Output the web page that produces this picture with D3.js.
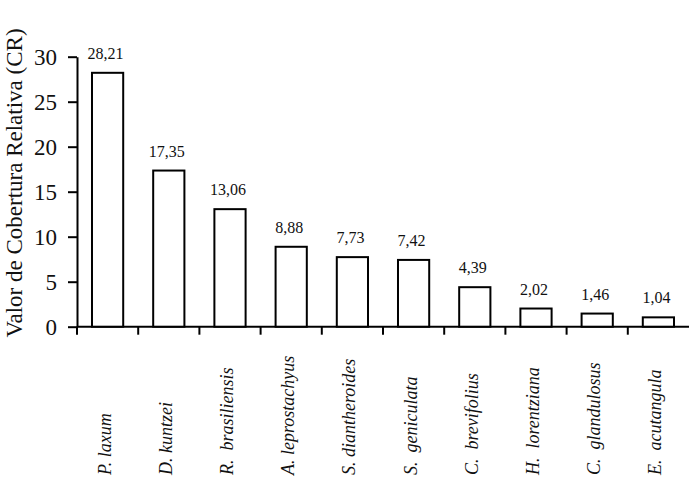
<!DOCTYPE html>
<html><head><meta charset="utf-8">
<script src="https://cdn.jsdelivr.net/npm/d3@7"></script>
<style>body{margin:0;background:#fff}svg{display:block}text{font-family:"Liberation Serif","Times New Roman",serif}</style>
</head><body>
<svg id="c" width="696" height="480"></svg>
<script>
const categories = ["P. laxum","D. kuntzei","R.  brasiliensis","A. leprostachyus","S. diantheroides","S.  geniculata","C.  brevifolius","H.  lorentziana","C.  glandulosus","E.  acutangula"];
const values = [28.21,17.35,13.06,8.88,7.73,7.42,4.39,2.02,1.46,1.04];
const valueLabels = ["28,21","17,35","13,06","8,88","7,73","7,42","4,39","2,02","1,46","1,04"];
const yTicks = [0,5,10,15,20,25,30];
const yTitle = "Valor de Cobertura Relativa (CR)";

const svg = d3.select("#c");
const serif = '"Liberation Serif","Times New Roman",serif';
const y = d3.scaleLinear().domain([0,30]).range([326.7,56.7]);
const x = d3.scaleBand().domain(categories).range([77,689]).paddingInner(0.49).paddingOuter(0.245);
const step = x.step(), bw = x.bandwidth();

// y axis
const ya = svg.append("g").attr("transform","translate(77,0)")
  .call(d3.axisLeft(y).tickValues(yTicks).tickSize(9).tickSizeOuter(0).tickPadding(11).tickFormat(d3.format("d")));
ya.attr("font-family",null).style("font-family",serif);
ya.select(".domain").attr("stroke","#000").attr("stroke-width",2);
ya.selectAll(".tick line").attr("stroke","#000").attr("stroke-width",2);
ya.selectAll(".tick text").style("font-family",serif).attr("font-size",23).attr("fill","#111");

// x axis line + boundary ticks
svg.append("line").attr("x1",x.range()[0]).attr("x2",x.range()[1]).attr("y1",y(0)).attr("y2",y(0))
  .attr("stroke","#000").attr("stroke-width",2);
svg.selectAll("line.xt").data(categories).enter().append("line").attr("class","xt")
  .attr("x1",d=>x(d)-(step-bw)/2).attr("x2",d=>x(d)-(step-bw)/2)
  .attr("y1",y(0)).attr("y2",y(0)+8).attr("stroke","#000").attr("stroke-width",2);

// bars
svg.selectAll("rect.bar").data(values).enter().append("rect").attr("class","bar")
  .attr("x",(d,i)=>x(categories[i])).attr("width",bw)
  .attr("y",d=>y(d)).attr("height",d=>y(0)-y(d))
  .attr("fill","#fff").attr("stroke","#000").attr("stroke-width",2);

// value labels
svg.selectAll("text.vl").data(values).enter().append("text").attr("class","vl")
  .attr("x",(d,i)=>x(categories[i])+bw/2-2).attr("y",d=>y(d)-14)
  .attr("text-anchor","middle").style("font-family",serif).attr("font-size",16).attr("fill","#111")
  .text((d,i)=>valueLabels[i]);

// category labels
svg.selectAll("text.cl").data(categories).enter().append("text").attr("class","cl")
  .attr("transform",d=>`translate(${x(d)+bw/2+3},475) rotate(-90)`)
  .style("font-family",serif).attr("font-style","italic").attr("font-size",18).attr("fill","#111")
  .style("white-space","pre").text(d=>d);

// y title
svg.append("text").attr("transform","translate(22,183) rotate(-90)")
  .attr("text-anchor","middle").style("font-family",serif).attr("font-size",23).attr("fill","#111")
  .text(yTitle);
</script>
</body></html>
